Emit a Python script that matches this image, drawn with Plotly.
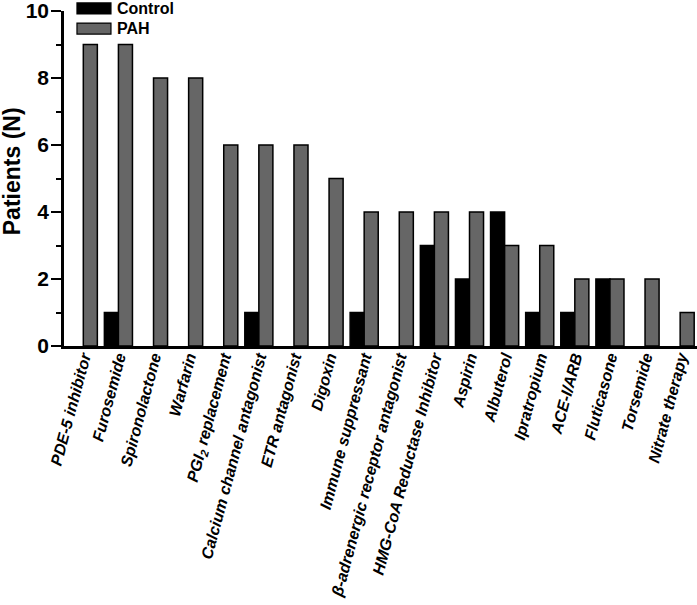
import plotly.graph_objects as go

categories = ["PDE-5 inhibitor", "Furosemide", "Spironolactone", "Warfarin",
              "PGI<sub>2</sub> replacement", "Calcium channel antagonist", "ETR antagonist",
              "Digoxin", "Immune suppressant", "β-adrenergic receptor antagonist",
              "HMG-CoA Reductase Inhibitor", "Aspirin", "Albuterol", "Ipratropium",
              "ACE-I/ARB", "Fluticasone", "Torsemide", "Nitrate therapy"]
control = [0, 1, 0, 0, 0, 1, 0, 0, 1, 0, 3, 2, 4, 1, 1, 2, 0, 0]
pah = [9, 9, 8, 8, 6, 6, 6, 5, 4, 4, 4, 4, 3, 3, 2, 2, 2, 1]
series_names = ["Control", "PAH"]
series_colors = ["#000000", "#666666"]
y_ticks = [0, 2, 4, 6, 8, 10]

x_idx = list(range(len(categories)))

def outline(vals):
    return [1.5 if v > 0 else 0 for v in vals]

fig = go.Figure()
for name, vals, col in zip(series_names, [control, pah], series_colors):
    fig.add_trace(go.Bar(x=x_idx, y=vals, name=name, showlegend=False,
                         marker=dict(color=col, line=dict(color="#000000", width=outline(vals)))))

# custom legend with wide swatches (as in the reference)
leg_rows = [(1.024, 0.991), (0.964, 0.931)]
for (y1, y0), name, col in zip(leg_rows, series_names, series_colors):
    fig.add_shape(type="rect", xref="paper", yref="paper", x0=0.0205, x1=0.0742,
                  y0=y0, y1=y1, fillcolor=col, line=dict(color="black", width=1.2))
    fig.add_annotation(xref="paper", yref="paper", x=0.081, y=(y0 + y1) / 2,
                       text=name, showarrow=False, xanchor="left", yanchor="middle",
                       font=dict(size=16, weight="bold", color="black"))

# y-axis title
fig.add_annotation(xref="paper", yref="paper", x=-0.082, y=0.522, text="Patients (N)",
                   textangle=-90, showarrow=False, xanchor="center", yanchor="middle",
                   font=dict(size=23, weight="bold", color="black"))

fig.update_layout(
    width=697, height=605,
    margin=dict(l=64, r=0, t=11, b=259, autoexpand=False),
    plot_bgcolor="white", paper_bgcolor="white",
    barmode="group", bargap=0.2, bargroupgap=0,
    font=dict(family="Liberation Sans, Arial, sans-serif", color="black"),
    showlegend=False,
)
fig.update_xaxes(
    range=[-0.55, 17.48], automargin=False,
    tickmode="array", tickvals=x_idx, ticktext=categories,
    tickangle=-75, ticks="", ticklabelstandoff=-7,
    tickfont=dict(size=16, weight="bold", style="italic"),
    showline=True, linecolor="black", linewidth=2.5,
    showgrid=False, zeroline=False,
)
fig.update_yaxes(
    range=[0, 10], tickvals=y_ticks, automargin=False, ticklabeloverflow="allow",
    ticks="outside", ticklen=10, tickwidth=2, tickcolor="black", ticklabelstandoff=-2,
    minor=dict(dtick=1, ticks="outside", ticklen=5, tickwidth=1.5, tickcolor="black"),
    tickfont=dict(size=21, weight="bold"),
    showline=True, linecolor="black", linewidth=2.5,
    showgrid=False, zeroline=False,
)

fig.write_html("out.html", config={"displayModeBar": False},
               post_script="document.body.style.margin='0';")
